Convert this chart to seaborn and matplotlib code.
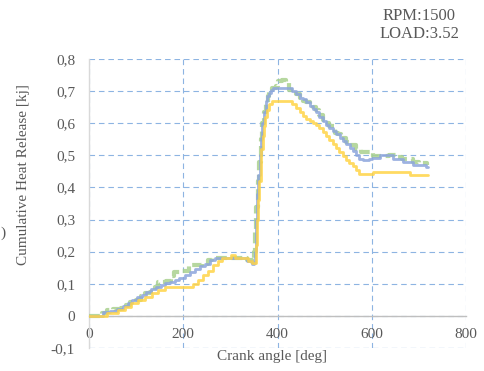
import matplotlib
matplotlib.use("Agg")
import matplotlib.pyplot as plt
from matplotlib.ticker import FuncFormatter
import seaborn as sns
import pandas as pd

# Cumulative heat release traces (crank angle in deg, release in kJ)
angle_green = [0, 28, 38, 50, 68, 78, 86, 100, 110, 118, 130, 140, 147, 164, 175, 180, 198,
               212, 240, 252, 262, 335, 345, 347, 350, 353, 355, 358, 360, 364, 368, 371, 375,
               379, 382, 388, 396, 402, 410, 417, 424, 440, 447, 454, 461, 468, 475, 482, 489,
               496, 503, 510, 521, 528, 535, 546, 553, 567, 577, 598, 602, 637, 651, 665, 687,
               700, 718]
heat_green = [0.0, 0.008, 0.018, 0.021, 0.025, 0.035, 0.044, 0.05, 0.062, 0.07, 0.075, 0.09,
              0.105, 0.11, 0.125, 0.136, 0.14, 0.158, 0.162, 0.175, 0.18, 0.175, 0.168, 0.17,
              0.20, 0.26, 0.34, 0.42, 0.48, 0.55, 0.60, 0.635, 0.66, 0.685, 0.70, 0.71, 0.715,
              0.73, 0.735, 0.725, 0.705, 0.69, 0.68, 0.67, 0.665, 0.66, 0.65, 0.64, 0.625, 0.61,
              0.60, 0.59, 0.57, 0.565, 0.555, 0.54, 0.533, 0.52, 0.51, 0.51, 0.497, 0.50, 0.495,
              0.49, 0.48, 0.475, 0.47]

angle_blue = [0, 30, 45, 60, 72, 82, 92, 102, 112, 122, 132, 142, 152, 162, 172, 182, 192, 204,
              214, 225, 235, 246, 256, 267, 335, 345, 350, 353, 355, 357, 359, 362, 365, 368,
              371, 375, 378, 382, 386, 390, 421, 431, 440, 447, 454, 461, 468, 475, 482, 489,
              496, 503, 510, 518, 525, 532, 539, 546, 553, 560, 567, 574, 581, 595, 600, 617,
              645, 666, 688, 715, 720]
heat_blue = [0.0, 0.013, 0.016, 0.022, 0.03, 0.04, 0.048, 0.058, 0.066, 0.075, 0.083, 0.09,
             0.097, 0.102, 0.106, 0.112, 0.118, 0.126, 0.137, 0.147, 0.155, 0.163, 0.174, 0.181,
             0.17, 0.162, 0.164, 0.20, 0.30, 0.38, 0.44, 0.50, 0.555, 0.60, 0.635, 0.67, 0.685,
             0.695, 0.703, 0.71, 0.71, 0.70, 0.69, 0.68, 0.675, 0.665, 0.655, 0.643, 0.634,
             0.62, 0.606, 0.596, 0.585, 0.575, 0.565, 0.555, 0.544, 0.534, 0.522, 0.512, 0.50,
             0.49, 0.485, 0.488, 0.492, 0.50, 0.49, 0.48, 0.47, 0.464, 0.464]

angle_yellow = [0, 38, 62, 76, 90, 105, 119, 133, 147, 161, 218, 221, 232, 242, 253, 264, 274,
                282, 302, 309, 338, 345, 352, 355, 357, 359, 361, 364, 366, 369, 371, 374, 378,
                383, 389, 424, 431, 440, 447, 454, 461, 468, 475, 482, 489, 496, 503, 510, 517,
                524, 531, 538, 545, 552, 560, 567, 574, 603, 681, 720]
heat_yellow = [0.0, 0.010, 0.019, 0.029, 0.039, 0.05, 0.06, 0.07, 0.081, 0.09, 0.09, 0.10,
               0.112, 0.126, 0.141, 0.157, 0.17, 0.181, 0.189, 0.181, 0.171, 0.165, 0.165, 0.22,
               0.30, 0.36, 0.42, 0.48, 0.52, 0.56, 0.59, 0.62, 0.64, 0.66, 0.67, 0.67, 0.66,
               0.648, 0.635, 0.622, 0.612, 0.606, 0.60, 0.595, 0.585, 0.572, 0.56, 0.548, 0.535,
               0.523, 0.51, 0.497, 0.487, 0.477, 0.466, 0.455, 0.443, 0.449, 0.44, 0.44]

x_ticks = [0, 200, 400, 600, 800]
y_ticks = [-0.1, 0.0, 0.1, 0.2, 0.3, 0.4, 0.5, 0.6, 0.7, 0.8]
annotation_lines = ["RPM:1500", "LOAD:3.52"]

sns.set_style("white")
plt.rcParams["font.family"] = ["Liberation Serif", "DejaVu Serif"]

text_gray = "#595959"
grid_blue = "#8DB4E2"

fig = plt.figure(figsize=(4.84, 3.71), dpi=100)
ax = fig.add_axes([89 / 484, 1 - 348 / 371, (466 - 89) / 484, (348 - 59) / 371])

series = [
    (angle_green, heat_green, "#A9D18E", 3.0, (0, (2.6, 1.1))),
    (angle_blue, heat_blue, "#8CA5DC", 2.0, "-"),
    (angle_yellow, heat_yellow, "#FFD447", 2.0, "-"),
]
for ang, heat, color, lw, ls in series:
    df = pd.DataFrame({"angle": ang, "heat": heat})
    sns.lineplot(data=df, x="angle", y="heat", ax=ax, color=color, linewidth=lw,
                 linestyle=ls, drawstyle="steps-post", alpha=0.85, zorder=3)

ax.set_xlim(0, 800)
ax.set_ylim(-0.1, 0.8)
ax.set_xticks(x_ticks)
ax.set_yticks(y_ticks)


def comma_fmt(v, _pos):
    if abs(v) < 1e-9:
        return "0"
    return f"{v:.1f}".replace(".", ",")


ax.yaxis.set_major_formatter(FuncFormatter(comma_fmt))
ax.xaxis.set_major_formatter(FuncFormatter(lambda v, p: f"{int(round(v))}"))

ax.grid(True, color=grid_blue, linestyle=(0, (5, 3.5)), linewidth=0.8)
ax.set_axisbelow(True)
for side in ["top", "right"]:
    ax.spines[side].set_visible(False)
ax.spines["left"].set_color("#D9D9D9")
ax.spines["left"].set_linewidth(1.0)
ax.spines["bottom"].set_position(("data", 0))
ax.spines["bottom"].set_color("#BFBFBF")
ax.spines["bottom"].set_linewidth(1.0)
ax.axhline(-0.1, color=grid_blue, linestyle=(0, (5, 3.5)), linewidth=0.8, zorder=1)

ax.tick_params(axis="both", length=0, labelsize=11, labelcolor=text_gray)
ax.tick_params(axis="y", pad=10)
ax.tick_params(axis="x", pad=8.5)

ax.set_xlabel("Crank angle [deg]", fontsize=11, color=text_gray)
ax.set_ylabel("Cumulative Heat Release [kj]", fontsize=11, color=text_gray)
ax.xaxis.set_label_coords(0.485, -0.031)
ax.xaxis.label.set_va("center")
ax.yaxis.set_label_coords(-0.175, 0.6)
ax.yaxis.label.set_va("center")

fig.text(419 / 484, 1 - 20 / 371, annotation_lines[0], ha="center", va="baseline",
         fontsize=12, color=text_gray)
fig.text(419 / 484, 1 - 38.5 / 371, annotation_lines[1], ha="center", va="baseline",
         fontsize=12, color=text_gray)
fig.text(0.5 / 484, 1 - 233 / 371, ")", ha="left", va="center", fontsize=11, color=text_gray)

fig.savefig("out.png", dpi=100)
